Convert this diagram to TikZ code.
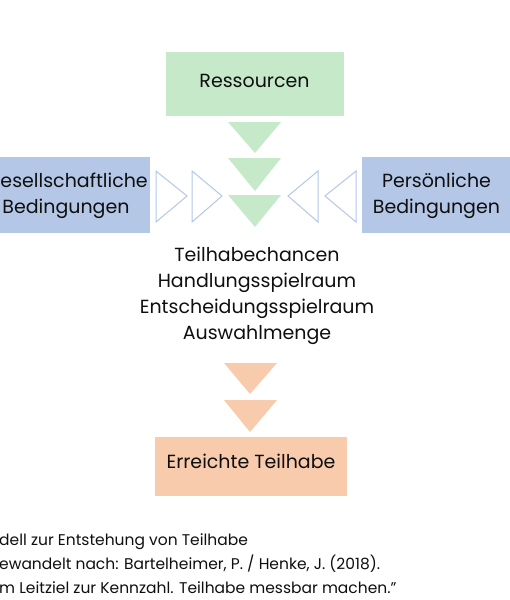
\documentclass[tikz,border=0pt]{standalone}
\usepackage{fontspec}
\setmainfont{Poppins}
\definecolor{grn}{RGB}{198,234,201}
\definecolor{blu}{RGB}{180,199,231}
\definecolor{org}{RGB}{248,203,173}
\definecolor{txt}{RGB}{15,15,15}
\tikzset{
  box/.style={inner sep=0pt, outer sep=0pt, text=txt, font=\fontsize{19}{26}\selectfont, anchor=base},
  lbl/.style={inner sep=0pt, text=txt, font=\fontsize{19}{26}\selectfont, anchor=base},
  captxt/.style={inner sep=0pt, text=txt, font=\fontsize{15.5}{23}\selectfont, anchor=base west},
  gtri/.style={fill=grn, draw=none},
  otri/.style={fill=org, draw=none},
  btri/.style={draw=blu, line width=1pt, fill=white, line join=miter}
}
\begin{document}
\begin{tikzpicture}[x=1pt,y=-1pt]
\useasboundingbox (0,0) rectangle (510,600);
% boxes
\fill[grn] (166,52) rectangle (344,116);
\node[box] (res) at (254.5,87) {Ressourcen};
\fill[blu] (0,157) rectangle (150,233);
\node[box, anchor=base west] (ges1) at (0.5,187) {esellschaftliche};
\node[box] (ges2) at (66,213) {Bedingungen};
\fill[blu] (362,157) rectangle (510,233);
\node[box] (per1) at (436.5,187) {Persönliche};
\node[box] (per2) at (436.5,213) {Bedingungen};
\fill[org] (155,437) rectangle (347,496);
\node[box] (err) at (251,468.5) {Erreichte Teilhabe};
% green triangles
\fill[gtri] (228,122) -- (281,122) -- (255,153) -- cycle;
\fill[gtri] (228,158) -- (281,158) -- (255,191) -- cycle;
\fill[gtri] (228,195) -- (281,195) -- (255,227) -- cycle;
% blue outline triangles
\draw[btri] (156,171) -- (187,196) -- (156,222) -- cycle;
\draw[btri] (192,171) -- (222,196) -- (192,222) -- cycle;
\draw[btri] (318,171) -- (288,196) -- (318,222) -- cycle;
\draw[btri] (356,171) -- (325,196) -- (356,222) -- cycle;
% central text
\node[lbl] (t1) at (257,261) {Teilhabechancen};
\node[lbl] (t2) at (257,287) {Handlungsspielraum};
\node[lbl] (t3) at (257,313) {Entscheidungsspielraum};
\node[lbl] (t4) at (257,339) {Auswahlmenge};
% orange triangles
\fill[otri] (224,363) -- (277,363) -- (250,394) -- cycle;
\fill[otri] (224,400) -- (277,400) -- (250,432) -- cycle;
% caption
\node[captxt] (c1) at (-1,545.5) {dell zur Entstehung von Teilhabe};
\node[captxt] (c2) at (-1,569) {ewandelt nach: Bartelheimer, P. / Henke, J. (2018).};
\node[captxt] (c3) at (-1,593) {m Leitziel zur Kennzahl. Teilhabe messbar machen.”};
\end{tikzpicture}
\end{document}
